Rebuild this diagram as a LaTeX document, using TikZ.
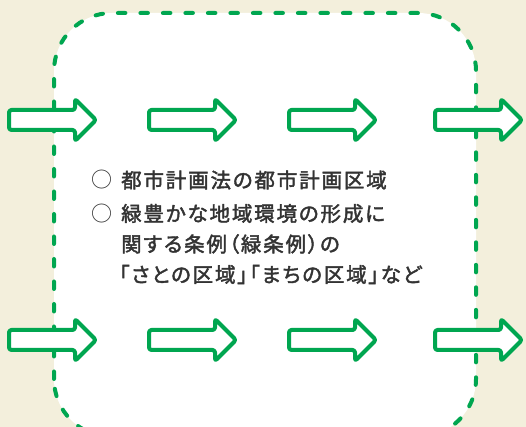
\documentclass[tikz,border=0pt]{standalone}
\usepackage{fontspec}
\newfontfamily\jpfont[RawFeature={+palt},LetterSpace=9,FakeBold=2]{Noto Sans CJK JP}
\newfontfamily\jpplain{Noto Sans CJK JP}
\definecolor{bgbeige}{HTML}{F3EFDC}
\definecolor{mygreen}{HTML}{00A650}
\definecolor{txtgray}{HTML}{333333}
\tikzset{
  border/.style={draw=mygreen, line width=4pt, dash pattern=on 7.5pt off 15pt, line cap=round, fill=white, rounded corners=58pt},
  arrowshape/.style={draw=mygreen, line width=4pt, fill=white, rounded corners=2.5pt, line join=round},
  txt/.style={text=txtgray, font=\jpfont\fontsize{20.5pt}{24pt}\selectfont, inner sep=0pt, anchor=west},
  bulletmark/.style={text=txtgray, font=\jpplain\fontsize{21pt}{24pt}\selectfont, inner sep=0pt, anchor=center}
}
\newcommand{\fatarrow}[2]{%
  \draw[arrowshape] (#1,#2-10) -- (#1+66,#2-10) -- (#1+66,#2-21) -- (#1+87,#2) -- (#1+66,#2+21) -- (#1+66,#2+10) -- (#1,#2+10) -- cycle;}
\begin{document}
\begin{tikzpicture}[x=1pt,y=1pt]
\useasboundingbox (0,0) rectangle (526,427);
\fill[bgbeige] (0,0) rectangle (526,427);
\begin{scope}
\clip (0,0) rectangle (526,427);
\draw[border] (54,-10) rectangle (476,414);
\end{scope}
\foreach \x in {9,149,289,435}{
  \fatarrow{\x}{307}
  \fatarrow{\x}{87}
}
\node[bulletmark] (c1) at (101.5,247) {○};
\node[bulletmark] (c2) at (101.5,213.5) {○};
\node[txt] (l1) at (121,247) {都市計画法の都市計画区域};
\node[txt] (l2) at (121,213.5) {緑豊かな地域環境の形成に};
\node[txt] (l3) at (121,183) {関する条例（緑条例）の};
\node[txt] (l4) at (119,152.5) {「さとの区域」「まちの区域」など};
\end{tikzpicture}
\end{document}
